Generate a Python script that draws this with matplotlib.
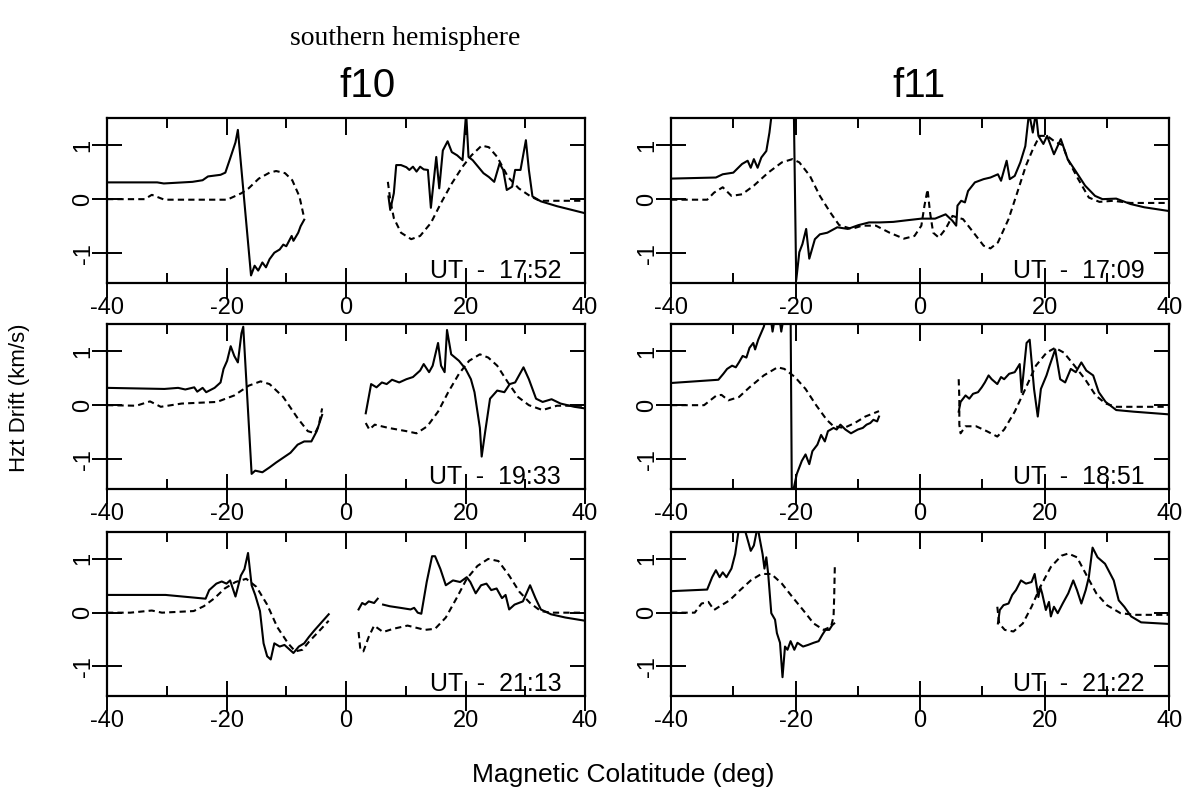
import numpy as np
import matplotlib.pyplot as plt

nan = np.nan

# =============================================================================
# Digitised drift profiles (x = magnetic colatitude in deg, y = drift in km/s)
# solid = measured, dashed = model; nan splits the two hemisphere passes
# =============================================================================

# f10, UT 17:52
f10_1752_solid_x = [-40, -31.6, -30.5, -25.7, -24, -23.1, -21, -20.2, -19.4, -18.5, -18.1,
                    -15.9, -15.3, -14.7, -14.0, -13.4, -12.8, -12.0, -11.1, -10.5, -10.0,
                    -9.1, -8.8, -8.0, -7.6, -7.0, nan,
                    7.1, 7.4, 8.0, 8.4, 9.2, 10.1, 10.6, 11.2, 11.8, 12.4, 13.0, 13.7, 14.2,
                    15.1, 15.6, 16.2, 17.0, 17.7, 18.6, 19.5, 20.1, 20.5, 21.2, 22.1, 23.0,
                    23.9, 24.8, 25.7, 26.3, 26.9, 27.8, 28.3, 29.2, 30.1, 30.6, 31.2, 32.6,
                    35.3, 38.2, 40]
f10_1752_solid_y = [0.31, 0.31, 0.29, 0.32, 0.35, 0.42, 0.45, 0.49, 0.75, 1.05, 1.28,
                    -1.41, -1.23, -1.32, -1.17, -1.26, -1.11, -0.99, -0.93, -0.84, -0.87,
                    -0.68, -0.77, -0.62, -0.5, -0.38, nan,
                    0.05, -0.2, 0.11, 0.63, 0.63, 0.59, 0.54, 0.6, 0.51, 0.6, 0.55, 0.54, -0.16,
                    0.78, 0.2, 0.9, 1.07, 0.87, 0.81, 0.72, 1.6, 0.78, 0.72, 0.6, 0.48,
                    0.41, 0.32, 0.66, 0.54, 0.17, 0.23, 0.54, 0.54, 1.09, 0.54, 0.05, -0.04,
                    -0.13, -0.21, -0.26]
f10_1752_dash_x = [-40, -33.7, -32.5, -30.4, -19.9, -17.5, -16.3, -14.6, -12.8, -11.7, -10.2,
                   -9.0, -7.8, -7.0, nan,
                   7.0, 7.4, 8.0, 9.2, 10.9, 12.4, 14.2, 15.9, 17.7, 19.5, 21.0, 22.7, 23.9,
                   25.3, 27.1, 28.9, 30.9, 32.4, 34.1, 40]
f10_1752_dash_y = [0, 0, 0.08, -0.01, -0.01, 0.11, 0.2, 0.38, 0.49, 0.52, 0.48,
                   0.35, 0.05, -0.35, nan,
                   0.32, -0.01, -0.35, -0.62, -0.74, -0.68, -0.44, -0.07, 0.29, 0.6, 0.81, 0.99, 0.96,
                   0.78, 0.41, 0.2, 0.05, -0.03, -0.03, -0.03]

# f11, UT 17:09
f11_1709_solid_x = [-40, -32.8, -31.7, -30.0, -28.6, -27.7, -27.2, -26.7, -26.1, -25.5, -24.7,
                    -24.2, -23.6, -20.3, -19.9, -19.4, -18.9, -18.3, -17.8, -16.9, -16.1,
                    -14.9, -13.3, -11.6, -9.9, -8.2, -6.5, -4.3, -2.1, 0.2, 2.4, 4.1, 5.2,
                    5.8, 6.0, 6.6, 7.2, 7.7, 8.8, 10.2, 11.3, 12.5, 13.0, 13.9, 14.4, 15.2,
                    16.1, 16.9, 17.5, 18.1, 18.6, 19.0, 19.8, 20.4, 21.5, 22.6, 23.7, 24.8,
                    26.5, 28.1, 29.3, 31.5, 33.8, 36.0, 40]
f11_1709_solid_y = [0.38, 0.4, 0.46, 0.49, 0.65, 0.71, 0.58, 0.74, 0.58, 0.77, 0.89,
                    1.23, 1.8, 1.8, -1.5, -0.98, -0.83, -0.55, -1.1, -0.74, -0.65,
                    -0.62, -0.52, -0.55, -0.48, -0.43, -0.43, -0.42, -0.39, -0.36, -0.36, -0.28, -0.4,
                    -0.49, -0.12, -0.03, -0.06, 0.15, 0.31, 0.37, 0.4, 0.46, 0.34, 0.71, 0.37, 0.43,
                    0.68, 0.98, 1.6, 1.23, 1.6, 1.17, 1.02, 1.17, 0.83, 1.11, 0.74, 0.55,
                    0.25, 0.06, 0.0, 0.01, -0.09, -0.15, -0.22]
f11_1709_dash_x = [-40, -34.2, -33.1, -31.7, -30.3, -28.6, -26.7, -24.4, -22.2, -20.5, -19.4,
                   -17.7, -16.1, -14.4, -13.0, -11.0, -9.3, -7.1, -4.9, -2.6, -0.9, 0.2, 0.7,
                   1.2, 1.6, 2.1, 3.0, 4.1, 5.2, 6.9, 8.6, 10.2, 11.3, 12.5, 14.2, 15.6, 17.0,
                   18.1, 19.2, 20.4, 21.8, 22.9, 23.7, 25.4, 27.1, 28.8, 31.0, 33.8, 40]
f11_1709_dash_y = [-0.01, -0.01, 0.12, 0.22, 0.06, 0.09, 0.25, 0.49, 0.68, 0.74, 0.68,
                   0.43, 0.06, -0.25, -0.48, -0.55, -0.49, -0.49, -0.62, -0.73, -0.68, -0.49, -0.12,
                   0.18, -0.25, -0.62, -0.71, -0.55, -0.31, -0.37, -0.62, -0.86, -0.91, -0.8, -0.37, 0.12, 0.62,
                   0.92, 1.17, 1.17, 1.05, 1.0, 0.74, 0.37, 0.03, -0.05, -0.03, -0.07, -0.07]

# f10, UT 19:33
f10_1933_solid_x = [-40, -30.4, -28.1, -26.9, -25.4, -24.9, -24.0, -23.4, -22.0, -21.0, -20.5,
                    -19.9, -19.3, -18.7, -18.1, -17.5, -17.2, -15.8, -15.2, -14.0, -12.8,
                    -11.7, -10.5, -9.3, -8.1, -7.0, -5.8, -4.9, -4.0, nan,
                    3.3, 4.2, 5.1, 6.0, 6.8, 7.7, 8.9, 10.1, 11.2, 12.4, 13.0, 13.9, 14.5,
                    15.4, 15.9, 16.5, 16.9, 17.6, 18.9, 20.0, 20.9, 21.5, 22.4, 22.7, 23.3,
                    24.1, 25.3, 26.5, 27.4, 28.3, 29.7, 30.6, 31.8, 32.9, 34.4, 35.9, 38.2, 40]
f10_1933_solid_y = [0.32, 0.3, 0.32, 0.29, 0.33, 0.25, 0.32, 0.24, 0.32, 0.42, 0.67,
                    0.82, 1.09, 0.91, 0.79, 1.33, 1.45, -1.27, -1.21, -1.24, -1.15,
                    -1.06, -0.97, -0.88, -0.73, -0.67, -0.67, -0.48, -0.18, nan,
                    -0.15, 0.39, 0.33, 0.42, 0.39, 0.47, 0.42, 0.48, 0.52, 0.64, 0.76, 0.61, 0.73,
                    1.15, 0.73, 0.61, 1.39, 0.94, 0.82, 0.67, 0.48, 0.24, -0.42, -0.95, -0.48,
                    0.12, 0.27, 0.24, 0.39, 0.42, 0.7, 0.48, 0.12, 0.06, 0.11, 0.03, -0.03, -0.06]
f10_1933_dash_x = [-40, -35.1, -32.8, -31.0, -27.5, -21.6, -18.7, -16.3, -14.3, -12.8, -10.5,
                   -8.1, -6.4, -5.2, -4.6, -4.0, nan,
                   3.3, 3.9, 4.8, 7.1, 10.1, 11.8, 13.6, 15.4, 17.1, 18.9, 20.6, 22.4, 23.8,
                   25.3, 27.1, 28.8, 30.6, 32.9, 35.3, 40]
f10_1933_dash_y = [0, -0.01, 0.07, -0.03, 0.03, 0.06, 0.18, 0.36, 0.44, 0.39, 0.15,
                   -0.24, -0.48, -0.52, -0.39, -0.06, nan,
                   -0.33, -0.45, -0.36, -0.42, -0.48, -0.52, -0.39, -0.12, 0.24, 0.58, 0.82, 0.94, 0.88,
                   0.73, 0.42, 0.15, 0.0, -0.09, -0.01, -0.01]

# f11, UT 18:51
f11_1851_solid_x = [-40, -32.4, -31.6, -31.0, -30.2, -29.6, -29.1, -28.5, -27.9, -27.4, -26.8,
                    -26.5, -26.0, -25.1, -24.6, -24.1, -23.7, -23.2, -22.7, -22.3, -21.8,
                    -21.2, -20.8, -20.6, -19.8, -19.0, -18.4, -17.8, -17.3, -16.5, -15.9,
                    -15.3, -14.8, -13.9, -13.4, -12.8, -12.0, -11.1, -10.0, -9.2, -8.6,
                    -8.0, -7.5, -6.9, -6.6, nan,
                    6.2, 6.5, 7.3, 7.9, 8.5, 9.3, 9.9, 10.4, 11.0, 11.5, 12.4, 13.0, 13.5,
                    14.3, 15.2, 16.0, 16.3, 17.1, 17.6, 18.3, 18.9, 19.4, 20.3, 20.8, 21.7,
                    22.5, 23.3, 24.2, 25.0, 25.9, 26.7, 27.8, 28.7, 29.8, 31.5, 34.3, 40]
f11_1851_solid_y = [0.41, 0.47, 0.58, 0.67, 0.73, 0.7, 0.79, 0.91, 0.88, 1.06, 1.15,
                    1.03, 1.21, 1.45, 1.7, 1.7, 1.36, 1.7, 1.7, 1.36, 1.7,
                    1.7, 1.7, -1.7, -1.27, -1.03, -0.91, -1.09, -0.85, -0.73, -0.55,
                    -0.67, -0.48, -0.42, -0.45, -0.36, -0.45, -0.52, -0.45, -0.42, -0.36,
                    -0.33, -0.27, -0.3, -0.21, nan,
                    -0.12, 0.06, 0.18, 0.12, 0.21, 0.24, 0.33, 0.42, 0.55, 0.48, 0.39, 0.52, 0.48,
                    0.58, 0.61, 0.76, 0.24, 1.15, 1.21, 0.3, -0.21, 0.3, 0.55, 0.73, 1.03,
                    0.48, 0.42, 0.67, 0.61, 0.79, 0.64, 0.55, 0.24, 0.06, -0.09, -0.12, -0.17]
f11_1851_dash_x = [-40, -34.7, -32.7, -31.9, -30.8, -29.1, -27.4, -25.1, -22.9, -21.8, -20.1,
                   -18.4, -16.7, -15.0, -13.9, -12.2, -10.5, -8.8, -6.6, nan,
                   6.2, 6.3, 6.3, 6.5, 7.3, 9.0, 10.7, 12.4, 13.5, 15.2, 16.9, 18.6, 20.3,
                   21.7, 23.1, 24.8, 26.5, 28.2, 29.8, 31.5, 40]
f11_1851_dash_y = [0, 0, 0.18, 0.19, 0.09, 0.15, 0.33, 0.55, 0.7, 0.67, 0.52,
                   0.3, 0.0, -0.27, -0.39, -0.42, -0.33, -0.21, -0.11, nan,
                   0.48, 0.12, -0.36, -0.52, -0.39, -0.39, -0.48, -0.58, -0.45, -0.12, 0.3, 0.73, 0.97,
                   1.06, 0.97, 0.73, 0.48, 0.18, 0.03, -0.03, -0.03]

# f10, UT 21:13
f10_2113_solid_x = [-40, -30.2, -23.5, -22.9, -21.7, -20.8, -20.0, -19.4, -18.5, -17.6, -17.0,
                    -16.4, -15.8, -15.2, -14.4, -13.8, -13.2, -12.6, -12.0, -11.1, -10.3,
                    -9.7, -8.8, -7.9, -7.0, -6.2, -5.3, -4.1, -2.9, nan,
                    2.1, 2.7, 3.2, 3.8, 4.7, 5.3, nan,
                    6.2, 7.3, 9.1, 10.8, 11.4, 12.0, 12.6, 13.5, 14.4, 14.9, 15.8, 16.7,
                    17.9, 19.1, 20.2, 20.8, 21.7, 22.6, 23.5, 24.3, 25.2, 26.1, 26.7, 27.3,
                    28.2, 29.6, 30.8, 31.7, 32.6, 34.3, 36.7, 40]
f10_2113_solid_y = [0.33, 0.33, 0.26, 0.42, 0.54, 0.58, 0.54, 0.6, 0.3, 0.69, 0.81,
                    1.11, 0.51, 0.33, 0.03, -0.57, -0.81, -0.87, -0.57, -0.63, -0.6,
                    -0.66, -0.75, -0.63, -0.57, -0.45, -0.33, -0.18, -0.03, nan,
                    0.06, 0.18, 0.15, 0.21, 0.18, 0.26, nan,
                    0.15, 0.12, 0.09, 0.06, 0.09, 0.0, -0.02, 0.57, 1.05, 1.05, 0.81, 0.51,
                    0.6, 0.57, 0.66, 0.57, 0.36, 0.51, 0.54, 0.42, 0.45, 0.27, 0.33, 0.06,
                    0.15, 0.21, 0.51, 0.27, 0.06, -0.03, -0.09, -0.15]
f10_2113_dash_x = [-40, -36.1, -32.5, -30.8, -25.5, -23.8, -22.0, -20.3, -18.5, -16.7, -15.0,
                   -13.2, -11.5, -9.7, -8.5, -7.3, -6.2, -4.4, -2.9, nan,
                   2.1, 2.4, 2.9, 3.8, 4.7, 6.2, 7.9, 10.3, 13.2, 14.9, 16.7, 18.5, 20.2,
                   22.0, 23.8, 25.5, 27.3, 29.0, 30.8, 32.6, 34.3, 40]
f10_2113_dash_y = [0, 0, 0.04, 0, 0.03, 0.12, 0.27, 0.45, 0.57, 0.63, 0.48,
                   0.15, -0.27, -0.57, -0.72, -0.69, -0.54, -0.33, -0.15, nan,
                   -0.36, -0.69, -0.72, -0.45, -0.24, -0.36, -0.3, -0.24, -0.32, -0.3, -0.09, 0.27, 0.63,
                   0.87, 1.0, 0.96, 0.69, 0.39, 0.18, 0.03, 0.0, 0.0]

# f11, UT 21:22
f11_2122_solid_x = [-40, -34.2, -33.4, -32.8, -32.2, -31.7, -31.1, -30.3, -29.7, -29.2, -28.8,
                    -27.8, -27.2, -26.7, -26.1, -25.8, -25.3, -25.0, -24.7, -24.4, -23.9,
                    -23.3, -23.0, -22.5, -22.1, -21.7, -21.3, -20.8, -20.2, -19.7, -18.8,
                    -18.0, -17.1, -16.3, -15.7, -15.2, -14.6, -14.1, -13.8, nan,
                    12.5, 12.8, 13.4, 14.2, 14.8, 15.4, 16.2, 17.0, 17.9, 18.4, 19.0, 19.3,
                    19.6, 20.2, 20.7, 21.0, 21.5, 22.1, 22.9, 23.8, 24.6, 25.2, 25.9, 26.6,
                    27.1, 27.7, 28.5, 29.7, 31.1, 31.9, 32.8, 33.9, 35.5, 40]
f11_2122_solid_y = [0.4, 0.43, 0.66, 0.79, 0.66, 0.75, 0.66, 0.82, 1.09, 1.49, 1.8,
                    1.4, 1.15, 1.25, 1.6, 1.4, 1.09, 0.82, 1.03, 0.72, -0.01,
                    -0.13, -0.38, -0.56, -1.2, -0.63, -0.69, -0.53, -0.69, -0.56, -0.63,
                    -0.6, -0.56, -0.53, -0.41, -0.32, -0.32, -0.23, -0.2, nan,
                    -0.2, 0.05, 0.14, 0.17, 0.33, 0.42, 0.6, 0.54, 0.57, 0.72, 0.29, 0.48,
                    0.36, 0.05, 0.2, -0.07, 0.11, -0.01, 0.17, 0.36, 0.6, 0.42, 0.17, 0.42,
                    0.66, 1.21, 1.03, 0.91, 0.6, 0.23, 0.11, -0.07, -0.18, -0.21]
f11_2122_dash_x = [-40, -36.2, -35.1, -34.0, -33.1, -32.3, -30.6, -28.9, -27.2, -25.5, -23.9,
                   -22.2, -20.5, -18.8, -17.1, -15.5, -14.3, -13.9, -13.8, -13.7, nan,
                   12.4, 12.7, 13.6, 15.0, 16.5, 17.9, 19.3, 21.0, 22.7, 23.8, 25.2, 26.9,
                   28.3, 30.0, 32.2, 34.5, 40]
f11_2122_dash_y = [0, 0, 0.17, 0.2, 0.05, 0.11, 0.23, 0.42, 0.6, 0.72, 0.72,
                   0.54, 0.29, 0.05, -0.2, -0.32, -0.26, -0.07, 0.29, 0.85, nan,
                   0.11, -0.2, -0.32, -0.35, -0.2, 0.11, 0.48, 0.85, 1.06, 1.1, 1.03, 0.66,
                   0.36, 0.14, -0.01, -0.04, -0.04]

ut_labels = [['17:52', '17:09'], ['19:33', '18:51'], ['21:13', '21:22']]
sat_titles = ['f10', 'f11']

panels = [[(f10_1752_solid_x, f10_1752_solid_y, f10_1752_dash_x, f10_1752_dash_y),
           (f11_1709_solid_x, f11_1709_solid_y, f11_1709_dash_x, f11_1709_dash_y)],
          [(f10_1933_solid_x, f10_1933_solid_y, f10_1933_dash_x, f10_1933_dash_y),
           (f11_1851_solid_x, f11_1851_solid_y, f11_1851_dash_x, f11_1851_dash_y)],
          [(f10_2113_solid_x, f10_2113_solid_y, f10_2113_dash_x, f10_2113_dash_y),
           (f11_2122_solid_x, f11_2122_solid_y, f11_2122_dash_x, f11_2122_dash_y)]]

# =============================================================================
# Plotting
# =============================================================================
plt.rcParams['font.family'] = ['Liberation Sans', 'DejaVu Sans']
fig = plt.figure(figsize=(11.93, 7.93), dpi=100)

col_left = [0.0897, 0.5625]
col_width = [0.4007, 0.4175]
row_bottom = [0.6431, 0.3833, 0.1223]
row_height = [0.2081, 0.2081, 0.2068]

for r in range(3):
    for c in range(2):
        sx, sy, dx, dy = panels[r][c]
        ax = fig.add_axes([col_left[c], row_bottom[r], col_width[c], row_height[r]])
        ax.plot(sx, sy, '-', color='k', lw=1.5)
        ax.plot(dx, dy, color='k', lw=1.5, linestyle=(0, (3, 2)))
        ax.set_xlim(-40, 40)
        ax.set_ylim(-1.55, 1.5)
        ax.set_xticks([-40, -20, 0, 20, 40])
        ax.set_xticks([-30, -10, 10, 30], minor=True)
        ax.set_xticklabels(['-40', '-20', '0', '20', '40'], fontsize=17)
        ax.set_yticks([-1, 0, 1])
        ax.set_yticklabels(['-1', '0', '1'], fontsize=17, rotation=90, va='center')
        # all ticks inward on the four edges
        ax.tick_params(axis='both', which='both', direction='in', top=True, right=True,
                       width=1.4, color='k')
        ax.tick_params(axis='x', which='major', length=12, pad=10)
        ax.tick_params(axis='x', which='minor', length=7)
        ax.tick_params(axis='y', which='major', length=11, pad=9)
        # bottom and left major ticks also poke outward
        for t in ax.xaxis.get_major_ticks():
            t.tick1line.set_marker('|')
            t.tick1line.set_markersize(22)
        for t in ax.yaxis.get_major_ticks():
            t.tick1line.set_marker('_')
            t.tick1line.set_markersize(22)
        for sp in ax.spines.values():
            sp.set_linewidth(1.6)
        ax.text(0.95, 0.0, 'UT  -  ' + ut_labels[r][c], transform=ax.transAxes,
                ha='right', va='bottom', fontsize=18)

fig.text(0.34, 0.952, 'southern hemisphere', family='Liberation Serif', fontsize=20,
         ha='center', va='center')
fig.text(0.308, 0.892, sat_titles[0], fontsize=29, ha='center', va='center')
fig.text(0.77, 0.892, sat_titles[1], fontsize=29, ha='center', va='center')
fig.text(0.016, 0.498, 'Hzt Drift (km/s)', rotation=90, fontsize=16, ha='center', va='center')
fig.text(0.522, 0.023, 'Magnetic Colatitude (deg)', fontsize=19, ha='center', va='center')

plt.savefig('out.png', dpi=100)
